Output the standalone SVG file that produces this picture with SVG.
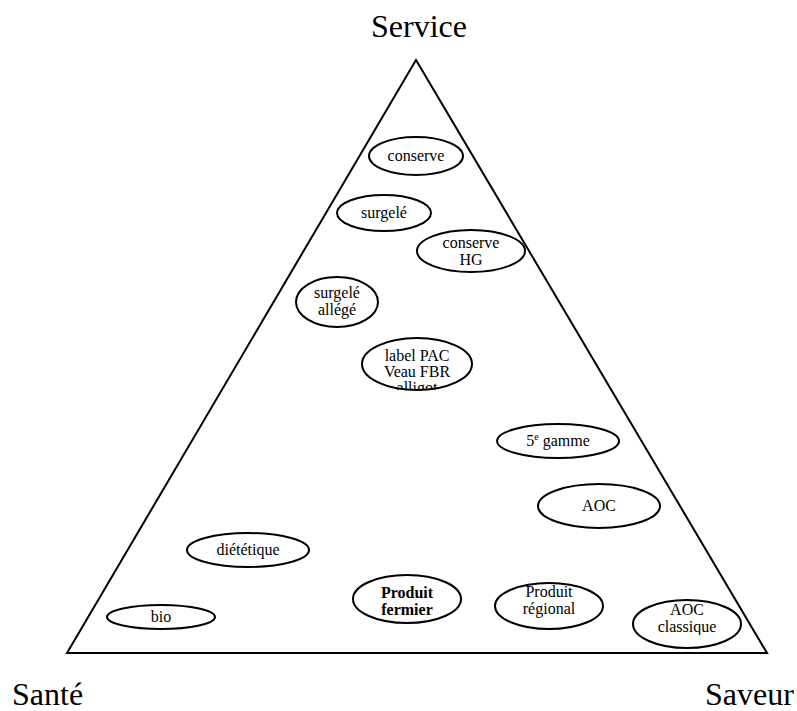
<svg xmlns="http://www.w3.org/2000/svg" width="797" height="711" viewBox="0 0 797 711">
<style>
.n ellipse{fill:#fff;stroke:#000;stroke-width:2}
text{font-family:"Liberation Serif","Times New Roman",serif;fill:#000}
.t{font-size:16px;text-anchor:middle}
.b{font-weight:bold}
.big{font-size:32px}
</style>
<defs>
<clipPath id="c3"><rect x="400" y="225" width="140" height="41"/></clipPath>
<clipPath id="c4"><rect x="290" y="275" width="100" height="45"/></clipPath>
<clipPath id="c5"><rect x="355" y="335" width="125" height="55"/></clipPath>
<clipPath id="c11"><rect x="490" y="580" width="120" height="48"/></clipPath>
<clipPath id="c12"><rect x="630" y="598" width="120" height="37"/></clipPath>
</defs>
<rect width="797" height="711" fill="#fff"/>
<g id="connectors">
<polygon points="416,60 67,653 767,653" fill="none" stroke="#000" stroke-width="2"/>
</g>
<g id="labels">
<text class="big" x="371" y="37">Service</text>
<text class="big" x="12" y="705">Santé</text>
<text class="big" x="705" y="705">Saveur</text>
</g>
<g id="n-conserve" class="n"><ellipse cx="416" cy="156" rx="47" ry="19"/><text class="t" x="416" y="161">conserve</text></g>
<g id="n-surgele" class="n"><ellipse cx="384" cy="213" rx="47" ry="18"/><text class="t" x="384" y="218">surgelé</text></g>
<g id="n-conserve-hg" class="n"><ellipse cx="471" cy="251" rx="54" ry="21"/><g clip-path="url(#c3)"><text class="t" x="471" y="248">conserve</text><text class="t" x="471" y="265">HG</text></g></g>
<g id="n-surgele-allege" class="n"><ellipse cx="337" cy="302" rx="41" ry="25"/><g clip-path="url(#c4)"><text class="t" x="337" y="298">surgelé</text><text class="t" x="337" y="315">allégé</text></g></g>
<g id="n-label" class="n"><ellipse cx="417" cy="364" rx="55" ry="26"/><g clip-path="url(#c5)"><text class="t" x="417" y="361">label PAC</text><text class="t" x="417" y="377">Veau FBR</text><text class="t" x="417" y="393">alligot</text></g></g>
<g id="n-5gamme" class="n"><ellipse cx="558" cy="441" rx="61" ry="17"/><text class="t" x="558" y="446">5<tspan font-size="10" dy="-6">e</tspan><tspan dy="6"> gamme</tspan></text></g>
<g id="n-aoc" class="n"><ellipse cx="599" cy="506" rx="61" ry="22"/><text class="t" x="599" y="511">AOC</text></g>
<g id="n-dietetique" class="n"><ellipse cx="248" cy="550" rx="61" ry="17"/><text class="t" x="248" y="555">diététique</text></g>
<g id="n-bio" class="n"><ellipse cx="161" cy="617" rx="54" ry="12"/><text class="t" x="161" y="622">bio</text></g>
<g id="n-produit-fermier" class="n"><ellipse cx="407" cy="599" rx="54" ry="24"/><text class="t b" x="407" y="598">Produit</text><text class="t b" x="407" y="615">fermier</text></g>
<g id="n-produit-regional" class="n"><ellipse cx="549" cy="606" rx="54" ry="23"/><g clip-path="url(#c11)"><text class="t" x="549" y="597">Produit</text><text class="t" x="549" y="614">régional</text></g></g>
<g id="n-aoc-classique" class="n"><ellipse cx="687" cy="624" rx="54" ry="24"/><g clip-path="url(#c12)"><text class="t" x="687" y="615">AOC</text><text class="t" x="687" y="632">classique</text></g></g>
</svg>
